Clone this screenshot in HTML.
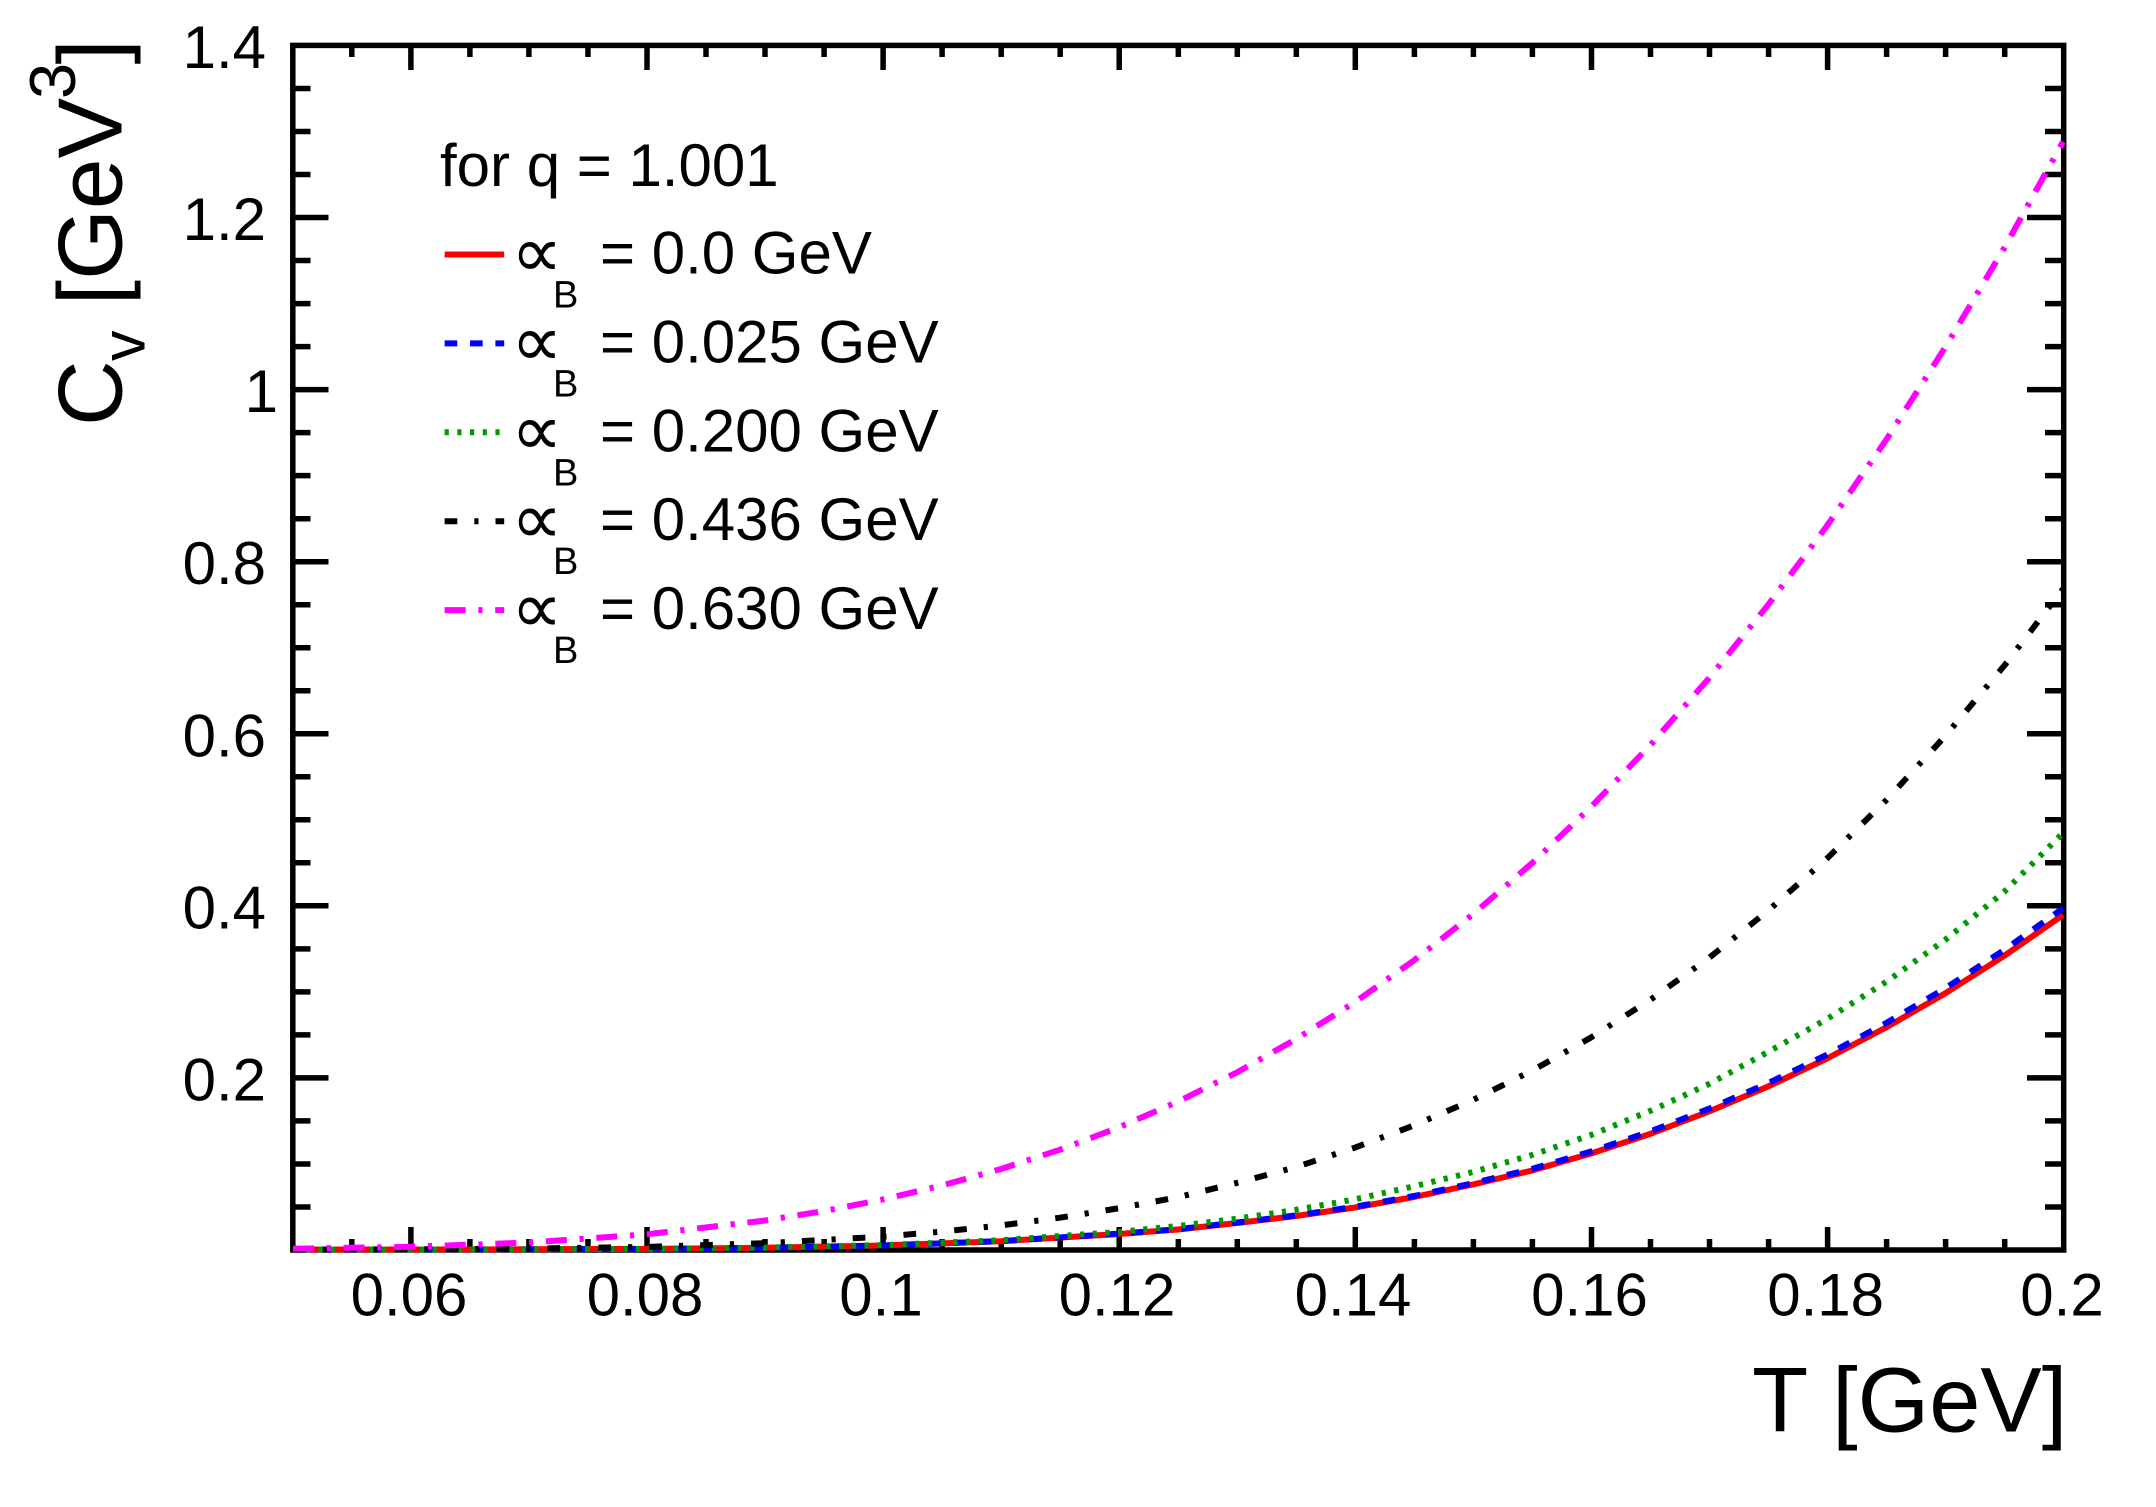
<!DOCTYPE html>
<html>
<head>
<meta charset="utf-8">
<style>
html,body{margin:0;padding:0;background:#fff;}
svg{display:block;}
</style>
</head>
<body>
<svg width="2156" height="1507" viewBox="0 0 2156 1507" xmlns="http://www.w3.org/2000/svg" font-family="'Liberation Sans', Arial, Helvetica, sans-serif">
<rect x="0" y="0" width="2156" height="1507" fill="#fff"/>

<!-- frame -->
<rect x="292.8" y="45.4" width="1770.9" height="1204.6" fill="none" stroke="#000" stroke-width="5.5"/>

<!-- ticks -->
<g stroke="#000" stroke-width="5.5" fill="none">
<path d="M351.8 1250V1239 M469.9 1250V1239 M528.9 1250V1239 M587.95 1250V1239 M706 1250V1239 M765 1250V1239 M824.1 1250V1239 M942.1 1250V1239 M1001.2 1250V1239 M1060.2 1250V1239 M1178.3 1250V1239 M1237.3 1250V1239 M1296.3 1250V1239 M1414.4 1250V1239 M1473.4 1250V1239 M1532.4 1250V1239 M1650.5 1250V1239 M1709.5 1250V1239 M1768.6 1250V1239 M1886.6 1250V1239 M1945.6 1250V1239 M2004.7 1250V1239"/>
<path d="M410.9 1250V1227 M647 1250V1227 M883.1 1250V1227 M1119.2 1250V1227 M1355.3 1250V1227 M1591.5 1250V1227 M1827.6 1250V1227"/>
<path d="M351.8 45.4V57 M469.9 45.4V57 M528.9 45.4V57 M587.95 45.4V57 M706 45.4V57 M765 45.4V57 M824.1 45.4V57 M942.1 45.4V57 M1001.2 45.4V57 M1060.2 45.4V57 M1178.3 45.4V57 M1237.3 45.4V57 M1296.3 45.4V57 M1414.4 45.4V57 M1473.4 45.4V57 M1532.4 45.4V57 M1650.5 45.4V57 M1709.5 45.4V57 M1768.6 45.4V57 M1886.6 45.4V57 M1945.6 45.4V57 M2004.7 45.4V57"/>
<path d="M410.9 45.4V70 M647 45.4V70 M883.1 45.4V70 M1119.2 45.4V70 M1355.3 45.4V70 M1591.5 45.4V70 M1827.6 45.4V70"/>
<path d="M292.8 1207H310.5 M292.8 1164H310.5 M292.8 1120.9H310.5 M292.8 1034.9H310.5 M292.8 991.9H310.5 M292.8 948.9H310.5 M292.8 862.8H310.5 M292.8 819.8H310.5 M292.8 776.8H310.5 M292.8 690.7H310.5 M292.8 647.7H310.5 M292.8 604.7H310.5 M292.8 518.7H310.5 M292.8 475.6H310.5 M292.8 432.6H310.5 M292.8 346.6H310.5 M292.8 303.6H310.5 M292.8 260.5H310.5 M292.8 174.5H310.5 M292.8 131.5H310.5 M292.8 88.5H310.5"/>
<path d="M292.8 1077.9H328.5 M292.8 905.8H328.5 M292.8 733.8H328.5 M292.8 561.7H328.5 M292.8 389.6H328.5 M292.8 217.5H328.5"/>
<path d="M2063.7 1207H2045 M2063.7 1164H2045 M2063.7 1120.9H2045 M2063.7 1034.9H2045 M2063.7 991.9H2045 M2063.7 948.9H2045 M2063.7 862.8H2045 M2063.7 819.8H2045 M2063.7 776.8H2045 M2063.7 690.7H2045 M2063.7 647.7H2045 M2063.7 604.7H2045 M2063.7 518.7H2045 M2063.7 475.6H2045 M2063.7 432.6H2045 M2063.7 346.6H2045 M2063.7 303.6H2045 M2063.7 260.5H2045 M2063.7 174.5H2045 M2063.7 131.5H2045 M2063.7 88.5H2045"/>
<path d="M2063.7 1077.9H2027 M2063.7 905.8H2027 M2063.7 733.8H2027 M2063.7 561.7H2027 M2063.7 389.6H2027 M2063.7 217.5H2027"/>
</g>

<!-- y tick labels -->
<g font-size="60" fill="#000" text-anchor="end">
<text x="266" y="67.9">1.4</text>
<text x="266" y="240">1.2</text>
<text x="278" y="412.1">1</text>
<text x="266" y="584.2">0.8</text>
<text x="266" y="756.3">0.6</text>
<text x="266" y="928.3">0.4</text>
<text x="266" y="1100.4">0.2</text>
</g>

<!-- x tick labels -->
<g font-size="60" fill="#000" text-anchor="middle">
<text x="409" y="1315.5">0.06</text>
<text x="645" y="1315.5">0.08</text>
<text x="881" y="1315.5">0.1</text>
<text x="1117" y="1315.5">0.12</text>
<text x="1353" y="1315.5">0.14</text>
<text x="1589.5" y="1315.5">0.16</text>
<text x="1825.6" y="1315.5">0.18</text>
<text x="2062" y="1315.5">0.2</text>
</g>

<!-- x title -->
<text x="1752" y="1431.5" font-size="92" fill="#000">T [GeV]</text>

<!-- y title -->
<g transform="translate(121.7,422) rotate(-90)" fill="#000">
<text x="-4" y="0" font-size="91">C</text>
<text x="61" y="23" font-size="61">v</text>
<text x="116.8" y="0" font-size="91">[GeV</text>
<text x="323" y="-46.7" font-size="65">3</text>
<text x="357.5" y="0" font-size="91">]</text>
</g>

<!-- curves -->
<g fill="none" stroke-width="6" stroke-linejoin="round" stroke-linecap="butt">
<path stroke="#ff0000" d="M293,1249.5 L411,1249.5 L529,1249.3 L647,1248.9 L765,1247.8 L883,1245.5 L1001,1241.2 L1119,1234 L1178,1229.5 L1237,1223 L1296,1216 L1355,1207.5 L1414,1197 L1473,1184.5 L1532,1170.5 L1591,1153.5 L1650,1134 L1709,1111.5 L1768,1086.5 L1827,1058.5 L1886,1027.5 L1945,993.5 L2004,956 L2063,915"/>
<path stroke="#0000ff" stroke-dasharray="12.7 12.7" d="M293,1249.5 L411,1249.5 L529,1249.3 L647,1248.9 L765,1247.8 L883,1245.5 L1001,1241.1 L1119,1233.7 L1178,1229.1 L1237,1222.5 L1296,1215.4 L1355,1206.7 L1414,1196 L1473,1183.2 L1532,1168.9 L1591,1151.5 L1650,1131.6 L1709,1108.7 L1768,1083.2 L1827,1054.7 L1886,1023.1 L1945,988.4 L2004,950.1 L2063,908.3"/>
<path stroke="#009900" stroke-dasharray="4.2 8.5" d="M293,1249.5 L411,1249.5 L529,1249.3 L647,1248.9 L765,1247.6 L883,1245.1 L1001,1240.2 L1119,1231.9 L1178,1226 L1237,1218.7 L1296,1209.8 L1355,1199.3 L1414,1186.3 L1473,1172 L1532,1155 L1591,1135 L1650,1111 L1709,1084 L1768,1052 L1827,1019 L1886,982 L1945,940 L2004,892 L2063,833"/>
<path stroke="#000000" stroke-dasharray="12.7 17 4.2 17" d="M293,1249.5 L411,1249.3 L529,1248.6 L647,1246.9 L765,1243.2 L883,1236.6 L942,1231.6 L1001,1225.4 L1060,1217.7 L1119,1208.2 L1178,1197.2 L1237,1182.9 L1296,1167.1 L1355,1147.6 L1414,1125.4 L1473,1099.9 L1532,1070.7 L1591,1037.5 L1650,1000 L1709,957.9 L1768,910.8 L1827,858.5 L1886,800.4 L1945,736.3 L2004,666 L2063,589"/>
<path stroke="#ff00ff" stroke-dasharray="21 12.7 4.2 12.7" d="M293,1248.7 L411,1246.8 L529,1242.5 L647,1234.3 L765,1220.5 L824,1211 L883,1199.4 L942,1185.5 L1001,1169 L1060,1149.7 L1119,1127.3 L1178,1101.6 L1237,1072.4 L1296,1039.1 L1355,1002.1 L1414,960.4 L1473,914.3 L1532,863.2 L1591,807 L1650,745.5 L1709,678.2 L1768,605 L1827,525.8 L1886,440.2 L1945,347.7 L2004,248.4 L2063,141.8"/>
</g>

<!-- legend -->
<text x="440" y="186" font-size="60" fill="#000">for q = 1.001</text>

<g stroke-width="6" fill="none">
<path stroke="#ff0000" d="M444.6 254.5H504.2"/>
<path stroke="#0000ff" stroke-dasharray="12.7 12.7" d="M444.6 343.4H504.2"/>
<path stroke="#009900" stroke-dasharray="4.2 8.5" d="M444.6 432.3H504.2"/>
<path stroke="#000000" stroke-dasharray="12.7 17 4.2 17" d="M444.6 521.2H504.2"/>
<path stroke="#ff00ff" stroke-dasharray="21 12.7 4.2 12.7" d="M444.6 610.1H504.2"/>
</g>

<g fill="#000">
<text x="511" y="277" font-size="72" font-family="'DejaVu Sans', sans-serif">∝</text>
<text x="553" y="307.5" font-size="38">B</text>
<text x="600" y="273.5" font-size="60">= 0.0 GeV</text>

<text x="511" y="365.9" font-size="72" font-family="'DejaVu Sans', sans-serif">∝</text>
<text x="553" y="396.4" font-size="38">B</text>
<text x="600" y="362.4" font-size="60">= 0.025 GeV</text>

<text x="511" y="454.8" font-size="72" font-family="'DejaVu Sans', sans-serif">∝</text>
<text x="553" y="485.3" font-size="38">B</text>
<text x="600" y="451.3" font-size="60">= 0.200 GeV</text>

<text x="511" y="543.7" font-size="72" font-family="'DejaVu Sans', sans-serif">∝</text>
<text x="553" y="574.2" font-size="38">B</text>
<text x="600" y="540.2" font-size="60">= 0.436 GeV</text>

<text x="511" y="632.6" font-size="72" font-family="'DejaVu Sans', sans-serif">∝</text>
<text x="553" y="663.1" font-size="38">B</text>
<text x="600" y="629.1" font-size="60">= 0.630 GeV</text>
</g>
</svg>
</body>
</html>
